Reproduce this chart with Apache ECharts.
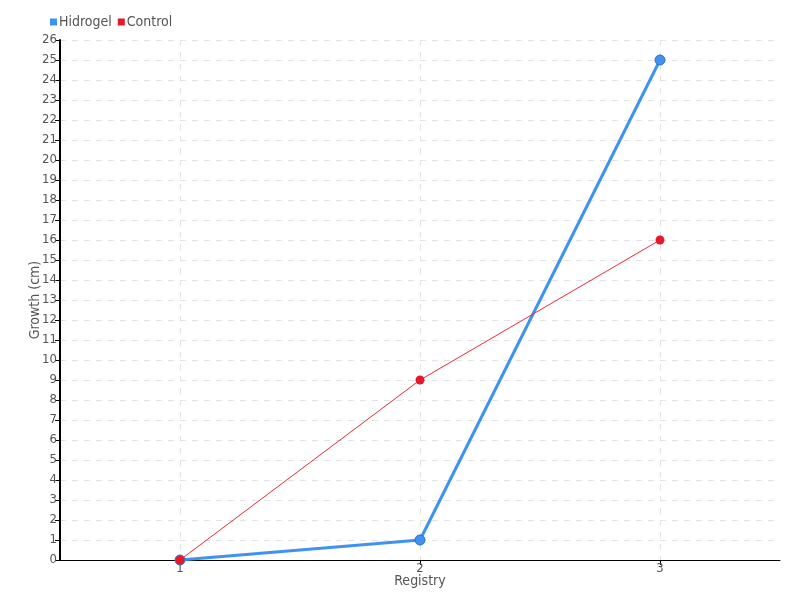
<!DOCTYPE html>
<html><head><meta charset="utf-8">
<script src="https://cdn.jsdelivr.net/npm/echarts@6/dist/echarts.min.js"></script>
<style>html,body{margin:0;padding:0;background:#fff}#c{width:800px;height:600px}</style>
</head><body><div id="c"></div>
<script>
const categories = ['1', '2', '3'];
const hidrogel = [0, 1, 25];
const control = [0, 9, 16];
const FONT = '"DejaVu Sans", sans-serif';
const FS = 'condensed';
const chart = echarts.init(document.getElementById('c'));
chart.setOption({
  animation: false,
  textStyle: {fontFamily: FONT, fontStyle: FS, color: '#555'},
  legend: {
    left: 45, top: 10, itemWidth: 7, itemHeight: 7, itemGap: 6,
    icon: 'rect',
    itemStyle: {borderWidth: 0},
    textStyle: {fontFamily: FONT, fontStyle: FS, fontSize: 14, color: '#555', padding: [0, 0, 0, -3]},
    data: ['Hidrogel', 'Control']
  },
  grid: {left: 60, right: 20, top: 40, bottom: 40},
  xAxis: {
    type: 'category', data: categories, boundaryGap: true,
    name: 'Registry', nameLocation: 'middle', nameGap: 14, nameMoveOverlap: false,
    nameTextStyle: {fontFamily: FONT, fontStyle: FS, fontSize: 14, color: '#555'},
    axisLine: {lineStyle: {color: '#000', width: 1}},
    axisTick: {show: true, alignWithLabel: true, inside: false, length: 5, lineStyle: {color: '#000'}},
    axisLabel: {fontFamily: FONT, fontStyle: FS, fontSize: 13, color: '#555', margin: 2},
    splitLine: {show: true, alignWithLabel: true, lineStyle: {type: [6, 6], color: '#e3e3e3'}}
  },
  yAxis: {
    type: 'value', min: 0, max: 26, interval: 1,
    name: 'Growth (cm)', nameLocation: 'middle', nameGap: 18, nameMoveOverlap: false,
    nameTextStyle: {fontFamily: FONT, fontStyle: FS, fontSize: 14, color: '#555'},
    axisLine: {show: true, lineStyle: {color: '#000', width: 2}},
    axisTick: {show: true, length: 5, lineStyle: {color: '#000'}},
    axisLabel: {fontFamily: FONT, fontStyle: FS, fontSize: 13, color: '#555', margin: 3},
    splitLine: {show: true, lineStyle: {type: [6, 6], color: '#e3e3e3'}}
  },
  series: [
    {
      name: 'Hidrogel', type: 'line', data: hidrogel,
      symbol: 'circle', symbolSize: 10,
      lineStyle: {color: '#3f93ee', width: 3},
      itemStyle: {color: '#3f93ee', borderColor: '#2a6fc0', borderWidth: 1}
    },
    {
      name: 'Control', type: 'line', data: control,
      symbol: 'circle', symbolSize: 9,
      lineStyle: {color: '#f0283a', width: 1},
      itemStyle: {color: '#e8182a', borderColor: '#e8182a', borderWidth: 0}
    }
  ]
});
</script></body></html>
